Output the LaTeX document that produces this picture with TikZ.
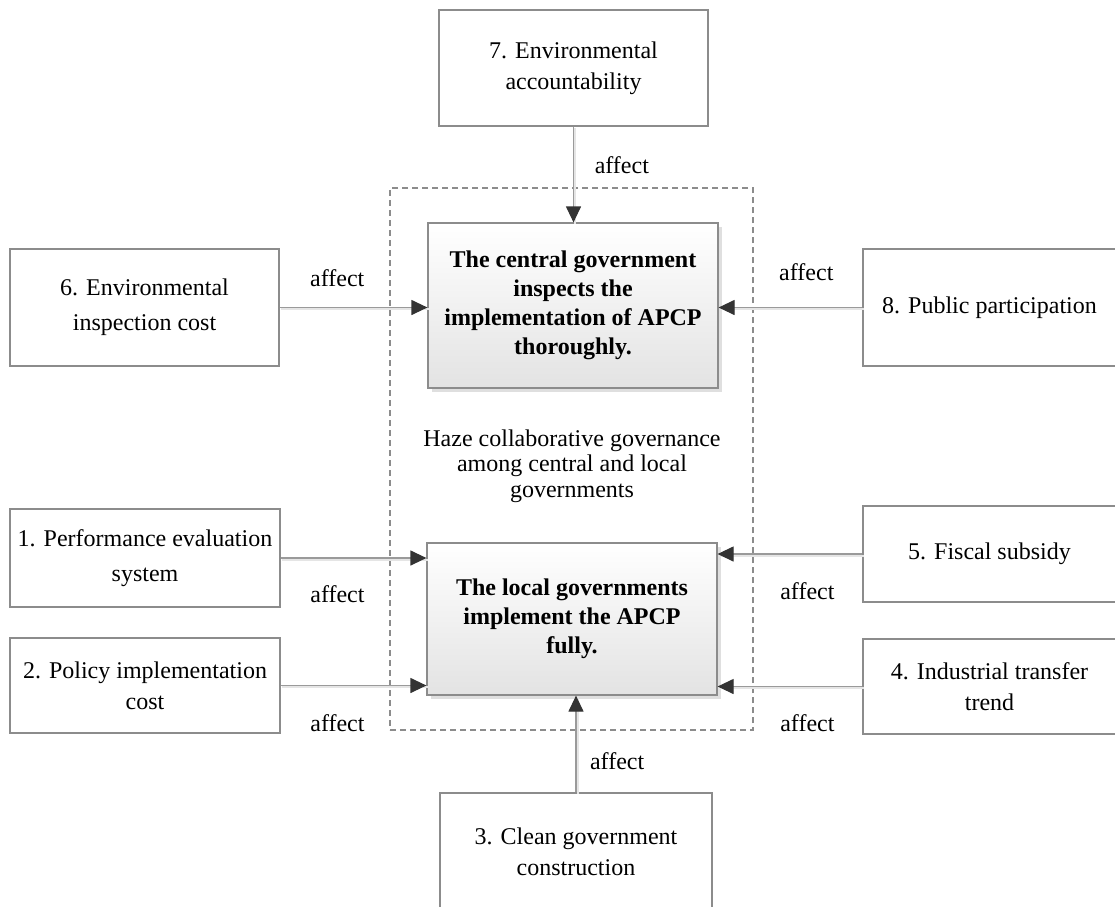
\documentclass[tikz,border=0pt]{standalone}
\usepackage{fontspec}
\setmainfont{Liberation Serif}
\usepackage{xcolor}
\definecolor{hzline}{HTML}{9A9A9A}
\definecolor{hzedge}{HTML}{8C8C8C}
\definecolor{hztip}{HTML}{333333}
\usetikzlibrary{arrows.meta,positioning,shadows}

\begin{document}
\begin{tikzpicture}[
  x=0.5pt, y=-0.5pt,
  factor/.style={draw=hzedge, line width=0.6pt, fill=white, align=center,
                 inner sep=0pt, font=\fontsize{12}{15.5}\selectfont},
  core/.style={draw=hzedge, line width=0.6pt, top color=white, bottom color=gray!22,
               drop shadow={opacity=0.25, shadow xshift=2pt, shadow yshift=-2pt},
               align=center, inner sep=0pt, font=\bfseries\fontsize{12}{14.5}\selectfont},
  arr/.style={-{Triangle[length=8pt,width=7.5pt,color=hztip]}, draw=hzline, line width=0.6pt,
              preaction={draw=black!10, line width=1pt, -,
                         transform canvas={shift={(0.8pt,-0.8pt)}}}},
  lbl/.style={font=\fontsize{12}{14}\selectfont}
]
  \useasboundingbox (0,0) rectangle (1115,906);

  % dashed frame round the two governments
  \node[draw=hzedge, dash pattern=on 3pt off 2pt, line width=0.6pt,
        minimum width=181.5pt, minimum height=271pt, inner sep=0pt] (frame) at (571.5,459) {};
  \node[lbl, align=center, font=\fontsize{12}{12.75}\selectfont] (haze) at (572,466)
    {Haze collaborative governance\\among central and local\\governments};

  \node[core, minimum width=145pt, minimum height=82.5pt] (cgov) at (573,305.5)
    {The central government\\inspects the\\implementation of APCP\\thoroughly.};
  \node[core, minimum width=145pt, minimum height=76pt] (lgov) at (572,619)
    {The local governments\\implement the APCP\\fully.};

  % factors
  \node[factor, minimum width=134.5pt, minimum height=58pt] (envacc) at (573.5,68)
    {7. Environmental\\accountability};
  \node[factor, minimum width=134.5pt, minimum height=58.5pt] (envcost) at (144.5,307.5)
    {6. Environmental\\[2pt]inspection cost};
  \node[factor, minimum width=126.5pt, minimum height=58.5pt] (public) at (989.5,307.5)
    {8. Public participation};
  \node[factor, minimum width=135pt, minimum height=49pt] (perfeval) at (145,558)
    {1. Performance evaluation\\[2pt]system};
  \node[factor, minimum width=135pt, minimum height=47.5pt] (policycost) at (145,685.5)
    {2. Policy implementation\\cost};
  \node[factor, minimum width=126.5pt, minimum height=48pt] (subsidy) at (989.5,554)
    {5. Fiscal subsidy};
  \node[factor, minimum width=126.5pt, minimum height=47.5pt] (indtrans) at (989.5,686.5)
    {4. Industrial transfer\\trend};
  \node[factor, minimum width=136pt, minimum height=59pt] (clean) at (576,852)
    {3. Clean government\\construction};

  % influences
  \draw[arr] (envacc.south) -- node[lbl, pos=0.4, right=7pt] (l7) {affect} (envacc.south |- cgov.north);
  \draw[arr] (envcost.east) -- node[lbl, pos=0.39, above=6.8pt] (l6) {affect} (envcost.east -| cgov.west);
  \draw[arr] (public.west) -- node[lbl, pos=0.39, above=10pt] (l8) {affect} (public.west -| cgov.east);
  \draw[arr] (perfeval.east) -- node[lbl, pos=0.39, below=10pt] (l1) {affect} (perfeval.east -| lgov.west);
  \draw[arr] (policycost.east) -- node[lbl, pos=0.39, below=10.8pt] (l2) {affect} (policycost.east -| lgov.west);
  \draw[arr] (subsidy.west) -- node[lbl, pos=0.38, below=10.5pt] (l5) {affect} (subsidy.west -| lgov.east);
  \draw[arr] (indtrans.west) -- node[lbl, pos=0.38, below=10.3pt] (l4) {affect} (indtrans.west -| lgov.east);
  \draw[arr] (clean.north) -- node[lbl, pos=0.32, right=3.4pt] (l3) {affect} (clean.north |- lgov.south);
\end{tikzpicture}
\end{document}
